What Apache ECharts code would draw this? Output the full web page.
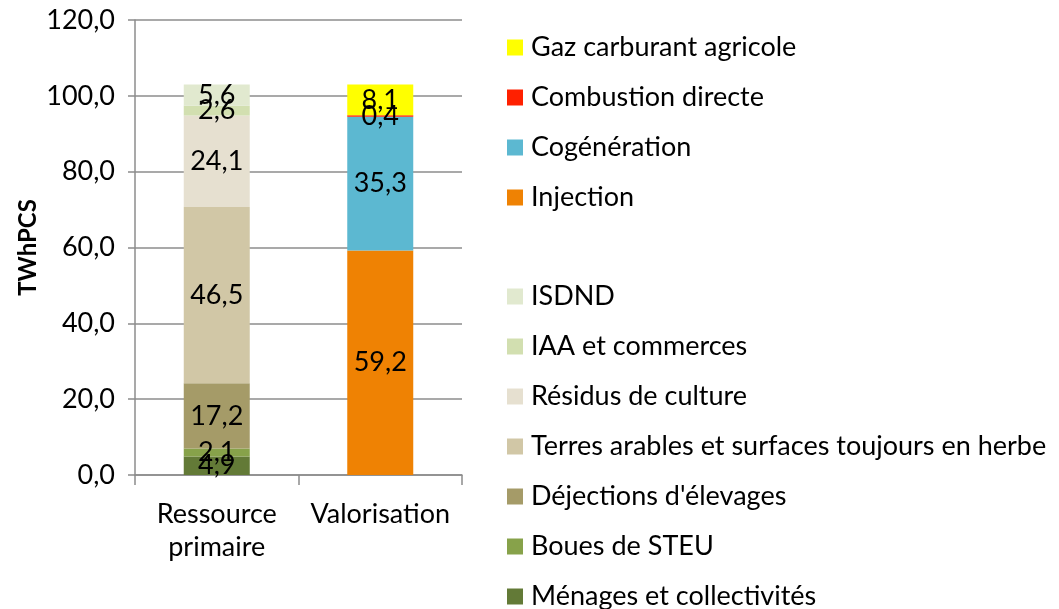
<!DOCTYPE html>
<html>
<head>
<meta charset="utf-8">
<script src="https://cdn.jsdelivr.net/npm/echarts@6/dist/echarts.min.js"></script>
<style>
  html, body { margin: 0; padding: 0; background: #fff; }
  #main { width: 1059px; height: 609px; }
</style>
</head>
<body>
<div id="main"></div>
<script>
// catégories de l'axe X
const categories = ['Ressource\nprimaire', 'Valorisation'];

// ressource primaire (du bas vers le haut)
const sourceNames = ['Ménages et collectivités', 'Boues de STEU', "Déjections d'élevages",
  'Terres arables et surfaces toujours en herbe', 'Résidus de culture', 'IAA et commerces', 'ISDND'];
const sourceValues = [4.9, 2.1, 17.2, 46.5, 24.1, 2.6, 5.6];
const sourceColors = ['#637a37', '#87a24a', '#a59b68', '#d1c7a6', '#e6e0d0', '#d2dfb0', '#e1e9cf'];

// valorisation (du bas vers le haut)
const useNames = ['Injection', 'Cogénération', 'Combustion directe', 'Gaz carburant agricole'];
const useValues = [59.2, 35.3, 0.4, 8.1];
const useColors = ['#ef8203', '#5cb8d1', '#ff2000', '#ffff00'];

const yTicks = { min: 0, max: 120, interval: 20 };

const FONT = 'Lato';
const FS = 27;
const fmt = v => v.toFixed(1).replace('.', ',');

function makeSeries(name, value, color, idx) {
  const data = [null, null];
  data[idx] = value;
  return {
    name: name,
    type: 'bar',
    stack: 'total',
    barWidth: 66,
    data: data,
    itemStyle: { color: color },
    label: {
      show: true,
      position: 'inside',
      color: '#000',
      fontFamily: FONT,
      fontSize: FS,
      formatter: p => fmt(p.value)
    }
  };
}

const series = [];
sourceNames.forEach((n, i) => series.push(makeSeries(n, sourceValues[i], sourceColors[i], 0)));
useNames.forEach((n, i) => series.push(makeSeries(n, useValues[i], useColors[i], 1)));

const legendText = { color: '#000', fontFamily: FONT, fontSize: FS, lineHeight: 27, padding: [0, 0, 0, 3] };

var myChart = echarts.init(document.getElementById('main'));
myChart.setOption({
  animation: false,
  grid: { left: 135, right: 597, top: 20, bottom: 134 },
  legend: [{
    orient: 'vertical',
    left: 507,
    top: 34,
    padding: 0,
    icon: 'rect',
    itemWidth: 16,
    itemHeight: 16,
    itemGap: 23,
    height: 250,
    textStyle: legendText,
    data: useNames.slice().reverse()
  }, {
    orient: 'vertical',
    left: 507,
    top: 283,
    padding: 0,
    icon: 'rect',
    itemWidth: 16,
    itemHeight: 16,
    itemGap: 23,
    height: 400,
    textStyle: legendText,
    data: sourceNames.slice().reverse()
  }],
  xAxis: {
    type: 'category',
    data: categories,
    axisLine: { lineStyle: { color: '#8c8c8c', width: 1.5 } },
    axisTick: { show: true, length: 10, lineStyle: { color: '#8c8c8c', width: 1.5 } },
    axisLabel: { color: '#000', fontFamily: FONT, fontSize: FS, lineHeight: 33, margin: 23, interval: 0 }
  },
  yAxis: {
    type: 'value',
    min: yTicks.min,
    max: yTicks.max,
    interval: yTicks.interval,
    name: 'TWhPCS',
    nameLocation: 'middle',
    nameGap: 95,
    nameTextStyle: { color: '#000', fontFamily: FONT, fontSize: 24, fontWeight: 'bold' },
    axisLine: { show: true, lineStyle: { color: '#8c8c8c', width: 1.5 } },
    axisTick: { show: true, length: 7, lineStyle: { color: '#8c8c8c', width: 1.5 } },
    splitLine: { lineStyle: { color: '#8c8c8c', width: 1.5 } },
    axisLabel: { color: '#000', fontFamily: FONT, fontSize: FS, margin: 20, formatter: v => fmt(v) }
  },
  series: series
});
</script>
</body>
</html>
